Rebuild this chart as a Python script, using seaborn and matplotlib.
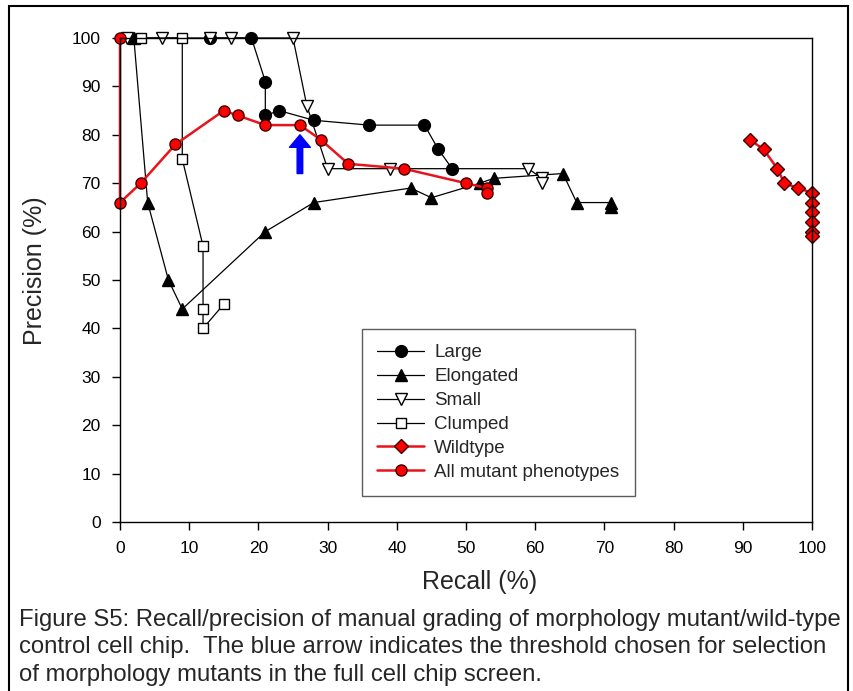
import matplotlib
matplotlib.use("Agg")
import matplotlib.pyplot as plt
import matplotlib.patches as mpatches
import seaborn as sns
import pandas as pd

# recall / precision values
large_recall = [13, 19, 21, 21, 23, 28, 36, 44, 46, 48]
large_prec = [100, 100, 91, 84, 85, 83, 82, 82, 77, 73]

elong_recall = [2, 4, 7, 9, 21, 28, 42, 45, 52, 54, 64, 66, 71, 71]
elong_prec = [100, 66, 50, 44, 60, 66, 69, 67, 70, 71, 72, 66, 66, 65]

small_recall = [1, 6, 13, 16, 25, 27, 30, 39, 59, 61, 61]
small_prec = [100, 100, 100, 100, 100, 86, 73, 73, 73, 71, 70]

clump_recall = [3, 9, 9, 12, 12, 12, 15]
clump_prec = [100, 100, 75, 57, 44, 40, 45]

wild_recall = [91, 93, 95, 96, 98, 100, 100, 100, 100, 100, 100]
wild_prec = [79, 77, 73, 70, 69, 68, 66, 64, 62, 60, 59]

allmut_recall = [0, 0, 3, 8, 15, 17, 21, 26, 29, 33, 41, 50, 53, 53]
allmut_prec = [100, 66, 70, 78, 85, 84, 82, 82, 79, 74, 73, 70, 69, 68]

arrow_x = 26
arrow_from = 72
arrow_to = 80

caption = ("Figure S5: Recall/precision of manual grading of morphology mutant/wild-type\n"
           "control cell chip.  The blue arrow indicates the threshold chosen for selection\n"
           "of morphology mutants in the full cell chip screen.")

sns.set_style("ticks")
plt.rcParams['font.family'] = ['Liberation Sans', 'DejaVu Sans']

fig = plt.figure(figsize=(8.54, 6.91), dpi=100)
fig.patch.set_facecolor("white")
ax = fig.add_axes([120/854, 1-522/691, 692/854, 484/691])

series = [
    ("Large", large_recall, large_prec, dict(marker="o", color="black", lw=0.9, markersize=8.5,
                                             markerfacecolor="black", markeredgecolor="black")),
    ("Elongated", elong_recall, elong_prec, dict(marker="^", color="black", lw=0.9, markersize=8.5,
                                                 markerfacecolor="black", markeredgecolor="black")),
    ("Small", small_recall, small_prec, dict(marker="v", color="black", lw=0.9, markersize=8.5,
                                             markerfacecolor="white", markeredgecolor="black")),
    ("Clumped", clump_recall, clump_prec, dict(marker="s", color="black", lw=0.9, markersize=7.5,
                                               markerfacecolor="white", markeredgecolor="black")),
    ("Wildtype", wild_recall, wild_prec, dict(marker="D", color="#e8141c", lw=1.8, markersize=7,
                                              markerfacecolor="#ff0000", markeredgecolor="#400000")),
    ("All mutant phenotypes", allmut_recall, allmut_prec, dict(marker="o", color="#e8141c", lw=1.8,
                                                              markersize=8, markerfacecolor="#ff0000",
                                                              markeredgecolor="#400000")),
]

for name, xs, ys, style in series:
    df = pd.DataFrame({"recall": xs, "precision": ys})
    sns.lineplot(data=df, x="recall", y="precision", sort=False, estimator=None,
                 ax=ax, label=name, clip_on=False, markeredgewidth=1, **style)

ax.annotate("", xy=(arrow_x, arrow_to), xytext=(arrow_x, arrow_from),
            arrowprops=dict(facecolor="#0000ff", edgecolor="#0000ff", width=4,
                            headwidth=15, headlength=9, shrink=0))

ax.set_xlim(0, 100)
ax.set_ylim(0, 100)
ax.set_xticks(range(0, 101, 10))
ax.set_yticks(range(0, 101, 10))
ax.tick_params(direction="out", length=6, width=1, pad=8, labelsize=12.5, colors="black")
for s in ax.spines.values():
    s.set_color("black")
    s.set_linewidth(1)

ax.set_xlabel("Recall (%)", fontsize=18)
ax.set_ylabel("Precision (%)", fontsize=18)
ax.xaxis.set_label_coords(0.519, -0.099)
ax.yaxis.set_label_coords(-0.105, 0.52)

leg = ax.legend(loc="lower left", bbox_to_anchor=(0.35, 0.054), borderaxespad=0, fontsize=13.5,
                frameon=True, fancybox=False, edgecolor="#333333", handlelength=2.5,
                labelspacing=0.36, borderpad=0.8, handletextpad=0.55)
leg.get_frame().set_linewidth(1)

fig.text(19/854, 1-609/691, caption, fontsize=17.2, va="top", ha="left", linespacing=1.31)

border = mpatches.Rectangle((9/854, -0.02), 839/854, 1.02 - 6/691, transform=fig.transFigure,
                            fill=False, edgecolor="black", lw=1.5)
fig.add_artist(border)

fig.savefig("out.png", dpi=100)
